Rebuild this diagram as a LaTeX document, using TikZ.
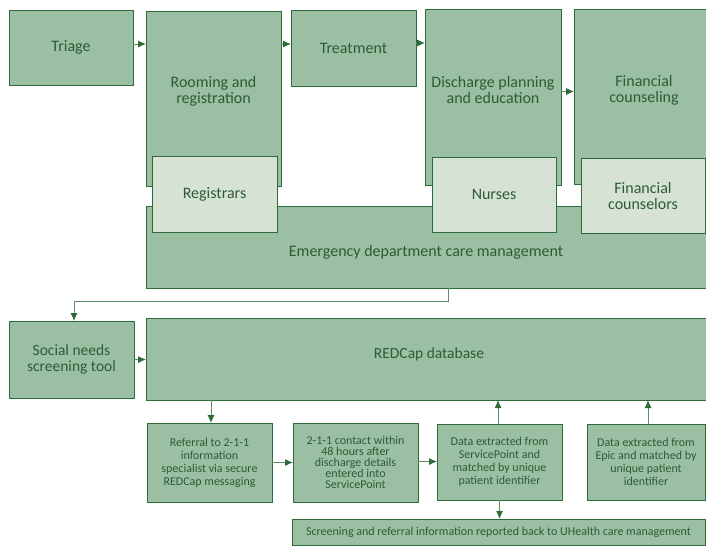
\documentclass[tikz,border=0pt]{standalone}
\usepackage{fontspec}
\setmainfont{Carlito}
\usetikzlibrary{arrows.meta, positioning}

\definecolor{boxfill}{HTML}{9BBFA3}
\definecolor{rolefill}{HTML}{D5E2D4}
\definecolor{boxline}{HTML}{2F6A3A}
\definecolor{boxtext}{HTML}{2E5B35}
\definecolor{arrowline}{HTML}{5E8C66}

\begin{document}
\begin{tikzpicture}[
      x=1pt, y=-1pt,
      box/.style={draw=boxline, fill=boxfill, line width=0.9pt, inner sep=0pt, outer sep=0pt,
                  text=boxtext, align=center, font=\fontsize{16}{16}\selectfont},
      role/.style={box, fill=rolefill},
      small/.style={box, font=\fontsize{12}{13}\selectfont},
      lbl/.style={text=boxtext, align=center, inner sep=0pt, font=\fontsize{16}{16}\selectfont},
      edge/.style={-{Latex[length=8pt, width=7pt, color=boxline]}, draw=arrowline, line width=0.9pt}
    ]
    \useasboundingbox (0,0) rectangle (706,546);
    % top row of steps
    \node[box, minimum width=124pt, minimum height=75pt] (triage) at (71,47.5) {Triage};
    \node[box, minimum width=135pt, minimum height=175pt] (room) at (213.5,98.5) {};
    \node[box, minimum width=125pt, minimum height=76pt] (treat) at (353.5,48) {Treatment};
    \node[box, minimum width=136pt, minimum height=176pt] (disch) at (493,97) {};
    \node[box, minimum width=140pt, minimum height=175pt] (fin) at (644,96.5) {};
    \node[lbl] (roomtxt) at (213.5,91) {Rooming and\\registration};
    \node[lbl] (dischtxt) at (493,90) {Discharge planning\\and education};
    \node[lbl] (fintxt) at (644,90) {Financial\\counseling};
    % care management band with roles
    \node[box, minimum width=560pt, minimum height=82pt] (edcm) at (426,247) {};
    \node[lbl] (edcmtxt) at (426,252) {Emergency department care management};
    \node[role, minimum width=125pt, minimum height=76pt] (reg) at (214.5,194.5) {Registrars};
    \node[role, minimum width=124pt, minimum height=75pt] (nurse) at (494,194.5) {Nurses};
    \node[role, minimum width=124pt, minimum height=75pt] (couns) at (643,196) {Financial\\counselors};
    \draw[edge] ([yshift=3.5pt]triage.east) -- ([yshift=3.5pt]triage.east -| room.west);
    \draw[edge] ([yshift=4pt]treat.west -| room.east) -- ([yshift=4pt]treat.west);
    \draw[edge] ([yshift=5pt]treat.east) -- ([yshift=5pt]treat.east -| disch.west);
    \draw[edge] ([yshift=5pt]fin.west -| disch.east) -- ([yshift=5pt]fin.west);
    % screening and database
    \node[box, minimum width=125pt, minimum height=77pt, font=\fontsize{15.5}{16}\selectfont] (social) at (71.5,359.5) {Social needs\\screening tool};
    \node[box, minimum width=560pt, minimum height=82pt] (redcap) at (426,359) {};
    \node[lbl, font=\fontsize{15.5}{16}\selectfont] (redcaptxt) at (429,354) {REDCap database};
    \draw[edge] ([xshift=22pt]edcm.south) -- ++(0,13) -| ([xshift=2.5pt]social.north);
    \draw[edge] (social.east) -- (social.east -| redcap.west);
    % referral chain
    \node[small, minimum width=125pt, minimum height=79pt] (refer) at (209.5,462.5)
      {Referral to 2-1-1\\information\\specialist via secure\\REDCap messaging};
    \node[small, minimum width=125pt, minimum height=79pt, font=\fontsize{12}{11}\selectfont] (contact) at (355.5,462.5)
      {2-1-1 contact within\\48 hours after\\discharge details\\entered into\\ServicePoint};
    \node[small, minimum width=125pt, minimum height=76pt] (spdata) at (499.5,462)
      {Data extracted from\\ServicePoint and\\matched by unique\\patient identifier};
    \node[small, minimum width=118pt, minimum height=76pt] (epic) at (646,462)
      {Data extracted from\\Epic and matched by\\unique patient\\identifier};
    \node[small, minimum width=413pt, minimum height=26pt] (report) at (498.5,532)
      {Screening and referral information reported back to UHealth care management};
    \draw[edge] ([xshift=1.5pt]redcap.south -| refer.north) -- ([xshift=1.5pt]refer.north);
    \draw[edge] (refer.east) -- (refer.east -| contact.west);
    \draw[edge] ([yshift=1pt]contact.east) -- ([yshift=1pt]contact.east -| spdata.west);
    \draw[edge] ([xshift=-1.5pt]spdata.north) -- ([xshift=-1.5pt]spdata.north |- redcap.south);
    \draw[edge] ([xshift=2pt]epic.north) -- ([xshift=2pt]epic.north |- redcap.south);
    \draw[edge] (spdata.south) -- (spdata.south |- report.north);
\end{tikzpicture}
\end{document}
